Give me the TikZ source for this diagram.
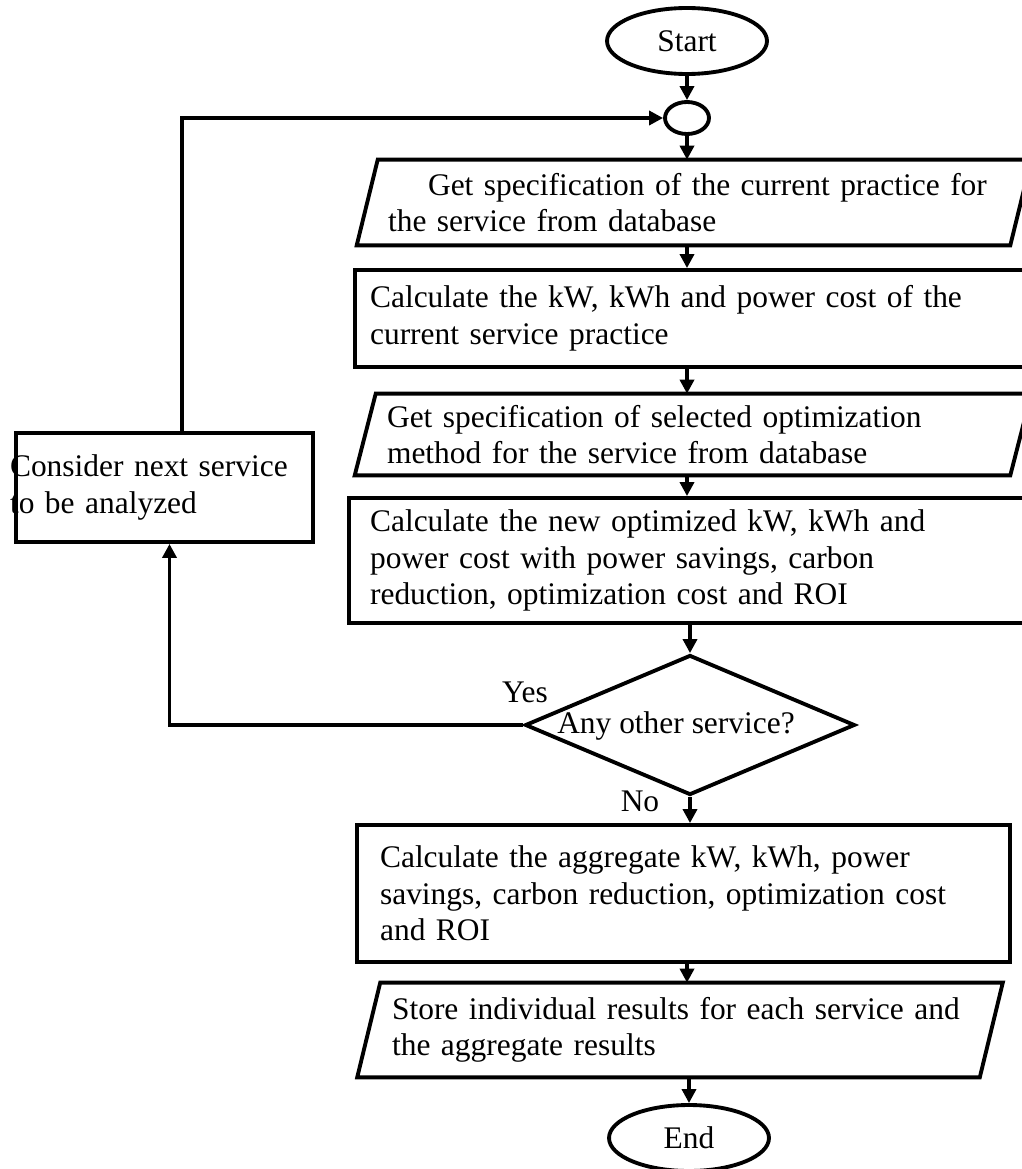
\documentclass[tikz,border=0pt]{standalone}
\usepackage{fontspec}
\setmainfont{Liberation Serif}
\usepackage{tikz}
\usetikzlibrary{shapes.geometric}
\usetikzlibrary{arrows.meta}

\begin{document}
\begin{tikzpicture}[x=0.02cm,y=-0.02cm,
    font=\fontsize{17.9pt}{20.8pt}\selectfont,
    term/.style={draw,ellipse,line width=2.2pt,inner sep=0pt,minimum width=3.2cm,minimum height=1.32cm},
    proc/.style={draw,rectangle,line width=2.2pt,inner xsep=0pt,align=left},
    io/.style={rectangle,inner xsep=0pt,align=left},
    arr/.style={line width=2pt,-{Triangle[length=0.28cm,width=0.28cm]}}]

    \useasboundingbox (0,0) rectangle (1021,1169);

    %Main column
    \node[term] (start) at (687,41) {Start};
    \node[draw,ellipse,line width=2.2pt,inner sep=0pt,minimum width=0.88cm,minimum height=0.64cm] (join) at (687,118) {};
    \node[io,minimum width=13.06cm,minimum height=1.7cm,text width=12.24cm] (in1) at (694,202.5)
        {\hspace*{0.8cm}Get specification of the current practice for\\the service from database};
    \node[proc,minimum width=13.5cm,minimum height=1.94cm,text width=12.9cm] (calc1) at (692.5,318.5)
        {Calculate the kW, kWh and power cost of the\\current service practice};
    \node[io,minimum width=13.1cm,minimum height=1.62cm,text width=12.24cm] (in2) at (693,434.5)
        {Get specification of selected optimization\\method for the service from database};
    \node[proc,minimum width=13.62cm,minimum height=2.5cm,text width=12.78cm] (calc2) at (689.5,560.5)
        {Calculate the new optimized kW, kWh and\\power cost with power savings, carbon\\reduction, optimization cost and ROI};
    \node[draw,diamond,line width=2.2pt,inner sep=0pt,minimum width=6.6cm,minimum height=2.8cm] (dec) at (690,725) {};
    \node (dectext) at (676,726) {Any other service?};
    \node[proc,minimum width=13.06cm,minimum height=2.74cm,text width=12.14cm] (calc3) at (683.5,893.5)
        {Calculate the aggregate kW, kWh, power\\savings, carbon reduction, optimization cost\\and ROI};
    \node[io,minimum width=12.44cm,minimum height=1.88cm,text width=11.52cm] (out) at (680,1030)
        {Store individual results for each service and\\the aggregate results};
    \node[term] (end) at (689,1138) {End};

    %Loop back
    \node[proc,minimum width=5.94cm,minimum height=2.18cm,text width=5.94cm] (next) at (164.5,487.5)
        {\hspace*{-0.12cm}Consider next service\\\hspace*{-0.12cm}to be analyzed};
    \node (yes) at (525,692) {Yes};
    \node (no) at (640,801) {No};

    \foreach \n/\s in {in1/0.21cm,in2/0.21cm,out/0.23cm}
        \draw[line width=2.2pt] ([xshift=\s]\n.north west) -- ([xshift=\s]\n.north east)
            -- ([xshift=-\s]\n.south east) -- ([xshift=-\s]\n.south west) -- cycle;

    \draw[arr] (start) -- (join);
    \draw[arr] (join) -- (join |- in1.north);
    \draw[arr] (in1.south -| join) -- (join |- calc1.north);
    \draw[arr] (calc1.south -| join) -- (join |- in2.north);
    \draw[arr] (in2.south -| join) -- (join |- calc2.north);
    \draw[arr] (calc2.south -| dec) -- (dec.north);
    \draw[arr] (dec.south) -- (calc3.north -| dec);
    \draw[arr] (calc3.south -| join) -- (join |- out.north);
    \draw[arr] (out.south -| end) -- (end);

    \draw[arr] (dec.west) -| ([xshift=0.1cm]next.south);
    \draw[arr] ([xshift=0.35cm]next.north) |- (join.west);

\end{tikzpicture}
\end{document}
